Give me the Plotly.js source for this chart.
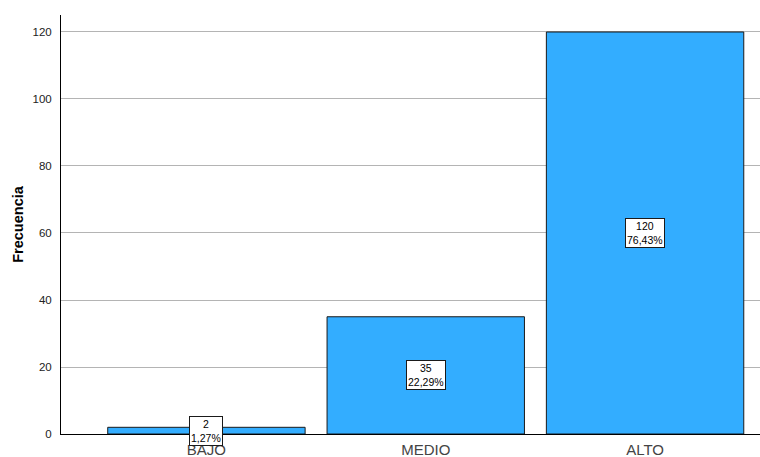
<!DOCTYPE html>
<html>
<head>
<meta charset="utf-8">
<script src="https://cdn.plot.ly/plotly-3.0.1.min.js"></script>
<style>html,body{margin:0;padding:0;background:#fff;}#chart{width:760px;height:457px;}</style>
</head>
<body>
<div id="chart"></div>
<script>
var categories = ["BAJO", "MEDIO", "ALTO"];
var counts = [2, 35, 120];
var percents = ["1,27%", "22,29%", "76,43%"];
var yTicks = [0, 20, 40, 60, 80, 100, 120];

var trace = {
  type: "bar",
  x: categories,
  y: counts,
  width: 0.9,
  marker: {color: "#33adff", line: {color: "#1a1a1a", width: 1}},
  hoverinfo: "none"
};

var annotations = categories.map(function (c, i) {
  return {
    x: c, y: counts[i] / 2, xref: "x", yref: "y",
    text: counts[i] + "<br>" + percents[i],
    showarrow: false,
    font: {family: "Arial, Liberation Sans, sans-serif", size: 10.5, color: "#000"},
    bgcolor: "#ffffff", bordercolor: "#1a1a1a", borderwidth: 1, borderpad: 1
  };
});

var layout = {
  width: 760, height: 457,
  margin: {l: 61, r: 0, t: 15, b: 23},
  paper_bgcolor: "#fff", plot_bgcolor: "#fff",
  showlegend: false,
  xaxis: {
    type: "category",
    range: [-0.663, 2.524],
    showgrid: false, showline: true, linecolor: "#000", linewidth: 1,
    ticks: "", ticklabelstandoff: 2,
    tickfont: {family: "Arial, Liberation Sans, sans-serif", size: 15, color: "#444"},
    zeroline: false
  },
  yaxis: {
    range: [0, 125.07],
    tickvals: yTicks, ticktext: yTicks.map(String),
    showgrid: true, gridcolor: "#b4b4b4", gridwidth: 1,
    showline: true, linecolor: "#000", linewidth: 1,
    ticks: "", ticklabelstandoff: 6,
    tickfont: {family: "Arial, Liberation Sans, sans-serif", size: 11.5, color: "#222"},
    zeroline: false,
    title: {text: "<b>Frecuencia</b>", standoff: 5,
      font: {family: "Arial, Liberation Sans, sans-serif", size: 14.5, color: "#000"}}
  },
  annotations: annotations
};

Plotly.newPlot("chart", [trace], layout, {displayModeBar: false, staticPlot: true});
</script>
</body>
</html>
